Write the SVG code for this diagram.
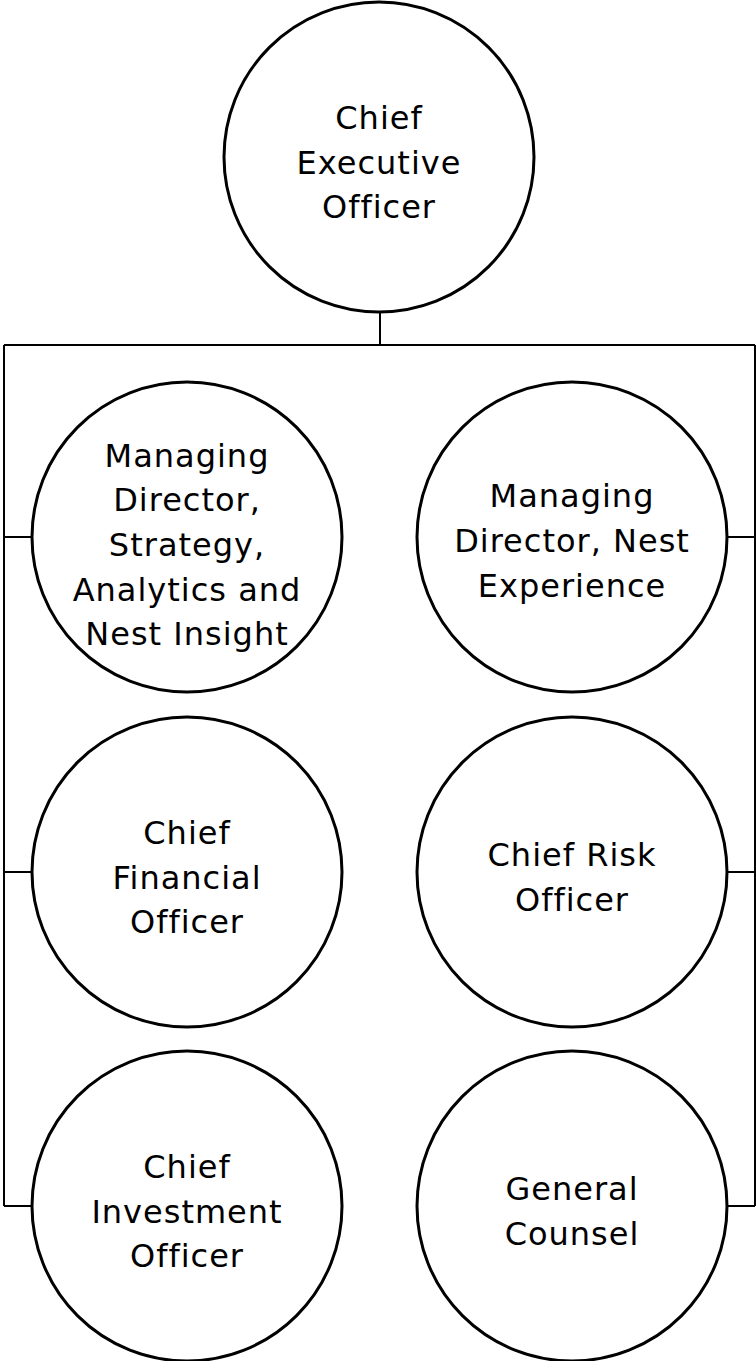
<svg xmlns="http://www.w3.org/2000/svg" width="756" height="1361" viewBox="0 0 756 1361">
<style>
.n{fill:#fff;stroke:#000;stroke-width:3}
.c{fill:none;stroke:#000;stroke-width:2}
text{font-family:"DejaVu Sans","Noto Sans",sans-serif;font-size:32px;letter-spacing:1px;fill:#000;text-anchor:middle}
</style>
<rect width="756" height="1361" fill="#fff"/>
<g id="connectors">
<path class="c" d="M380 312V345M4 345H755M4 345V1206M755 345V1206M4 537H32M4 872H32M4 1206H32M728 537H755M728 872H755M728 1206H755"/>
</g>
<g id="ceo"><circle class="n" cx="379" cy="157" r="155"/>
<text x="379" y="129">Chief</text><text x="379" y="174">Executive</text><text x="379" y="218">Officer</text></g>
<g id="md-strategy"><circle class="n" cx="187" cy="537" r="155"/>
<text x="187" y="467">Managing</text><text x="187" y="511">Director,</text><text x="187" y="556">Strategy,</text><text x="187" y="601">Analytics and</text><text x="187" y="645">Nest Insight</text></g>
<g id="md-experience"><circle class="n" cx="572" cy="537" r="155"/>
<text x="572" y="507">Managing</text><text x="572" y="552">Director, Nest</text><text x="572" y="597">Experience</text></g>
<g id="cfo"><circle class="n" cx="187" cy="872" r="155"/>
<text x="187" y="844">Chief</text><text x="187" y="889">Financial</text><text x="187" y="933">Officer</text></g>
<g id="cro"><circle class="n" cx="572" cy="872" r="155"/>
<text x="572" y="866">Chief Risk</text><text x="572" y="911">Officer</text></g>
<g id="cio"><circle class="n" cx="187" cy="1206" r="155"/>
<text x="187" y="1178">Chief</text><text x="187" y="1223">Investment</text><text x="187" y="1267">Officer</text></g>
<g id="gc"><circle class="n" cx="572" cy="1206" r="155"/>
<text x="572" y="1200">General</text><text x="572" y="1245">Counsel</text></g>
</svg>
